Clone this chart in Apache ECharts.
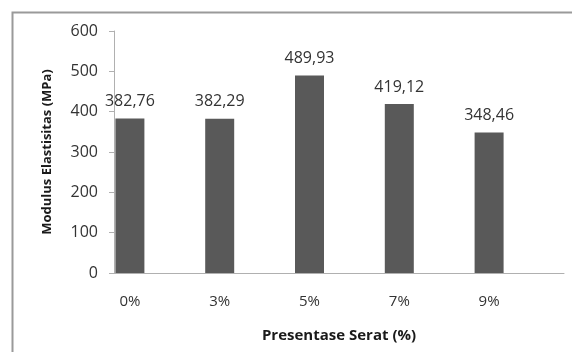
<!DOCTYPE html>
<html>
<head>
<meta charset="utf-8">
<script src="https://cdn.jsdelivr.net/npm/echarts@6/dist/echarts.min.js"></script>
<style>
  html, body { margin: 0; padding: 0; background: #fff; }
  #chart { width: 572px; height: 352px; }
</style>
</head>
<body>
<div id="chart"></div>
<script>
// Fibre percentage categories and measured modulus of elasticity (MPa)
const categories = ['0%', '3%', '5%', '7%', '9%'];
const modulusValues = [382.76, 382.29, 489.93, 419.12, 348.46];
const yTicks = { min: 0, max: 600, step: 100 };

const FONT = 'Open Sans';
const chart = echarts.init(document.getElementById('chart'), null, { renderer: 'canvas' });

const option = {
  backgroundColor: '#ffffff',
  animation: false,
  graphic: [{
    type: 'rect',
    left: 10, top: 10,
    shape: { width: 600, height: 400 },
    style: { fill: 'none', stroke: '#9a9a9a', lineWidth: 2 }
  }],
  grid: [
    // axis frame
    { left: 114, right: 8, top: 31, bottom: 79 },
    // bar area (category bands)
    { left: 85, width: 449, top: 31, bottom: 79 }
  ],
  xAxis: [
    {
      gridIndex: 0, type: 'value', min: 0, max: 1,
      axisLine: { show: true, lineStyle: { color: '#b0b0b0', width: 1 } },
      axisTick: { show: false }, axisLabel: { show: false }, splitLine: { show: false },
      name: 'Presentase Serat (%)', nameLocation: 'middle', nameGap: 55,
      nameTextStyle: { fontFamily: FONT, fontSize: 15, fontWeight: 'bold', color: '#1a1a1a' }
    },
    {
      gridIndex: 1, type: 'category', data: categories,
      axisLine: { show: false }, axisTick: { show: false },
      axisLabel: { fontFamily: FONT, fontSize: 15, color: '#333', margin: 21 }
    }
  ],
  yAxis: [
    {
      gridIndex: 0, type: 'value', min: yTicks.min, max: yTicks.max, interval: yTicks.step,
      axisLine: { show: true, lineStyle: { color: '#b0b0b0', width: 1 } },
      axisTick: { show: true, inside: false, length: 5, lineStyle: { color: '#b0b0b0' } },
      axisLabel: { fontFamily: FONT, fontSize: 16, color: '#333', margin: 16 },
      splitLine: { show: false },
      name: 'Modulus Elastisitas (MPa)', nameLocation: 'middle', nameGap: 60,
      nameTextStyle: { fontFamily: FONT, fontSize: 13, fontWeight: 'bold', color: '#1a1a1a' }
    },
    {
      gridIndex: 1, type: 'value', min: yTicks.min, max: yTicks.max, show: false
    }
  ],
  series: [{
    type: 'bar',
    xAxisIndex: 1, yAxisIndex: 1,
    data: modulusValues,
    barWidth: 29,
    itemStyle: { color: '#595959' },
    label: {
      show: true, position: 'top', distance: 9,
      fontFamily: FONT, fontSize: 16, color: '#333',
      formatter: p => p.value.toFixed(2).replace('.', ',')
    }
  }]
};
chart.setOption(option);
</script>
</body>
</html>
